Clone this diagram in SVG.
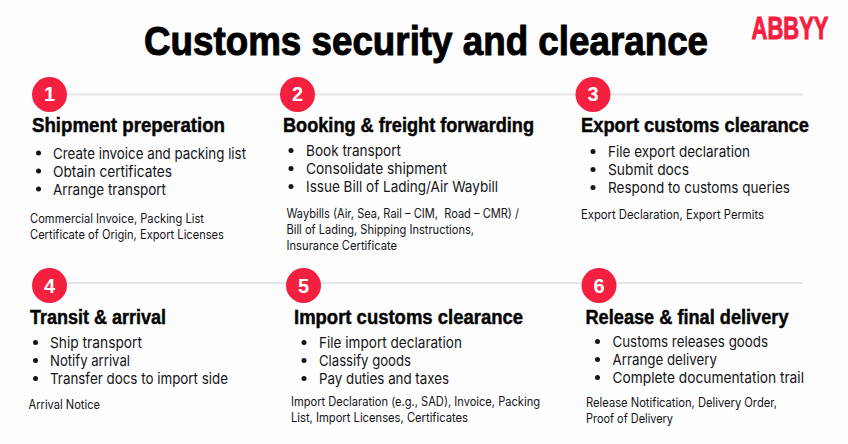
<svg xmlns="http://www.w3.org/2000/svg" width="848" height="444" viewBox="0 0 848 444">
<style>
text{font-family:"Inter","Liberation Sans",Arial,sans-serif;fill:#141416}
.title{font-family:"Liberation Sans",Arial,sans-serif;font-size:41px;font-weight:700;fill:#000;stroke:#000;stroke-width:1}
.logo{font-family:"Liberation Sans",Arial,sans-serif;font-size:32px;font-weight:700;fill:#f5203f;stroke:#f5203f;stroke-width:1}
.num{font-family:"Liberation Sans",Arial,sans-serif;font-size:20px;font-weight:700;fill:#fff;text-anchor:middle}
.head{font-family:"Liberation Sans",Arial,sans-serif;font-size:20px;font-weight:700;fill:#050505;stroke:#050505;stroke-width:.45}
.item{font-size:15px}
.doc{font-size:12.5px}
.badge{fill:#f5203f}
.dot{fill:#141416}
.rail{stroke:#e6e6ea;stroke-width:2;fill:none}
</style>
<rect width="848" height="444" fill="#fdfdfe"/>
<text id="title" class="title" transform="translate(144 55) scale(0.897 1)">Customs security and clearance</text>
<text id="logo" class="logo" transform="translate(751.5 38.5) scale(0.6875 1)">ABBYY</text>
<g id="connectors">
<line class="rail" x1="49" y1="94.5" x2="803" y2="94.5"/>
<line class="rail" x1="49" y1="283" x2="803" y2="283"/>
</g>
<g id="step1">
<circle class="badge" cx="49.5" cy="94.5" r="17.5"/>
<text class="num" x="49.5" y="100.5">1</text>
<text class="head" x="32" y="132" textLength="193" lengthAdjust="spacingAndGlyphs">Shipment preperation</text>
<circle class="dot" cx="38.5" cy="153" r="2.5"/><circle class="dot" cx="38.5" cy="171" r="2.5"/><circle class="dot" cx="38.5" cy="189" r="2.5"/>
<text class="item" x="53" y="159" textLength="193" lengthAdjust="spacingAndGlyphs">Create invoice and packing list</text>
<text class="item" x="53" y="177" textLength="119" lengthAdjust="spacingAndGlyphs">Obtain certificates</text>
<text class="item" x="53" y="195" textLength="113" lengthAdjust="spacingAndGlyphs">Arrange transport</text>
<text class="doc" x="30" y="223" textLength="174" lengthAdjust="spacingAndGlyphs">Commercial Invoice, Packing List</text>
<text class="doc" x="30" y="239" textLength="194" lengthAdjust="spacingAndGlyphs">Certificate of Origin, Export Licenses</text>
</g>
<g id="step2">
<circle class="badge" cx="297.5" cy="94.5" r="17.5"/>
<text class="num" x="297.5" y="100.5">2</text>
<text class="head" x="283" y="132" textLength="251" lengthAdjust="spacingAndGlyphs">Booking &amp; freight forwarding</text>
<circle class="dot" cx="291" cy="150.5" r="2.5"/><circle class="dot" cx="291" cy="168.5" r="2.5"/><circle class="dot" cx="291" cy="186.5" r="2.5"/>
<text class="item" x="306" y="156" textLength="95" lengthAdjust="spacingAndGlyphs">Book transport</text>
<text class="item" x="306" y="174" textLength="141" lengthAdjust="spacingAndGlyphs">Consolidate shipment</text>
<text class="item" x="306" y="192" textLength="192" lengthAdjust="spacingAndGlyphs">Issue Bill of Lading/Air Waybill</text>
<text class="doc" x="286.5" y="218" textLength="232.5" lengthAdjust="spacingAndGlyphs" xml:space="preserve">Waybills (Air, Sea, Rail – CIM,  Road – CMR) /</text>
<text class="doc" x="286.5" y="234" textLength="187.5" lengthAdjust="spacingAndGlyphs">Bill of Lading, Shipping Instructions,</text>
<text class="doc" x="286.5" y="250" textLength="110.5" lengthAdjust="spacingAndGlyphs">Insurance Certificate</text>
</g>
<g id="step3">
<circle class="badge" cx="593" cy="94.5" r="17.5"/>
<text class="num" x="593" y="100.5">3</text>
<text class="head" x="581" y="132" textLength="228" lengthAdjust="spacingAndGlyphs">Export customs clearance</text>
<circle class="dot" cx="593" cy="151.5" r="2.5"/><circle class="dot" cx="593" cy="169.5" r="2.5"/><circle class="dot" cx="593" cy="187.5" r="2.5"/>
<text class="item" x="608" y="157" textLength="142" lengthAdjust="spacingAndGlyphs">File export declaration</text>
<text class="item" x="608" y="175" textLength="81" lengthAdjust="spacingAndGlyphs">Submit docs</text>
<text class="item" x="608" y="193" textLength="182" lengthAdjust="spacingAndGlyphs">Respond to customs queries</text>
<text class="doc" x="581" y="219" textLength="183" lengthAdjust="spacingAndGlyphs">Export Declaration, Export Permits</text>
</g>
<g id="step4">
<circle class="badge" cx="49.5" cy="285.5" r="17.5"/>
<text class="num" x="49.5" y="292.5">4</text>
<text class="head" x="30" y="323.5" textLength="136" lengthAdjust="spacingAndGlyphs">Transit &amp; arrival</text>
<circle class="dot" cx="35.5" cy="342.5" r="2.5"/><circle class="dot" cx="35.5" cy="360.5" r="2.5"/><circle class="dot" cx="35.5" cy="378.5" r="2.5"/>
<text class="item" x="50" y="348" textLength="92" lengthAdjust="spacingAndGlyphs">Ship transport</text>
<text class="item" x="50" y="366" textLength="80" lengthAdjust="spacingAndGlyphs">Notify arrival</text>
<text class="item" x="50" y="384" textLength="178" lengthAdjust="spacingAndGlyphs">Transfer docs to import side</text>
<text class="doc" x="28.5" y="409" textLength="71.5" lengthAdjust="spacingAndGlyphs">Arrival Notice</text>
</g>
<g id="step5">
<circle class="badge" cx="303.5" cy="285.5" r="17.5"/>
<text class="num" x="303.5" y="292.5">5</text>
<text class="head" x="294" y="323.5" textLength="229" lengthAdjust="spacingAndGlyphs">Import customs clearance</text>
<circle class="dot" cx="304" cy="342.5" r="2.5"/><circle class="dot" cx="304" cy="360.5" r="2.5"/><circle class="dot" cx="304" cy="378.5" r="2.5"/>
<text class="item" x="319" y="348" textLength="143" lengthAdjust="spacingAndGlyphs">File import declaration</text>
<text class="item" x="319" y="366" textLength="92" lengthAdjust="spacingAndGlyphs">Classify goods</text>
<text class="item" x="319" y="384" textLength="130" lengthAdjust="spacingAndGlyphs">Pay duties and taxes</text>
<text class="doc" x="291" y="406" textLength="249" lengthAdjust="spacingAndGlyphs">Import Declaration (e.g., SAD), Invoice, Packing</text>
<text class="doc" x="291" y="422" textLength="177" lengthAdjust="spacingAndGlyphs">List, Import Licenses, Certificates</text>
</g>
<g id="step6">
<circle class="badge" cx="599" cy="285.5" r="17.5"/>
<text class="num" x="599" y="292.5">6</text>
<text class="head" x="585.5" y="323.5" textLength="203" lengthAdjust="spacingAndGlyphs">Release &amp; final delivery</text>
<circle class="dot" cx="597.5" cy="341.5" r="2.5"/><circle class="dot" cx="597.5" cy="359.5" r="2.5"/><circle class="dot" cx="597.5" cy="377.5" r="2.5"/>
<text class="item" x="612.5" y="347" textLength="155.5" lengthAdjust="spacingAndGlyphs">Customs releases goods</text>
<text class="item" x="612.5" y="365" textLength="104.5" lengthAdjust="spacingAndGlyphs">Arrange delivery</text>
<text class="item" x="612.5" y="383" textLength="191.5" lengthAdjust="spacingAndGlyphs">Complete documentation trail</text>
<text class="doc" x="586" y="407" textLength="191" lengthAdjust="spacingAndGlyphs">Release Notification, Delivery Order,</text>
<text class="doc" x="586" y="423" textLength="87" lengthAdjust="spacingAndGlyphs">Proof of Delivery</text>
</g>
</svg>
